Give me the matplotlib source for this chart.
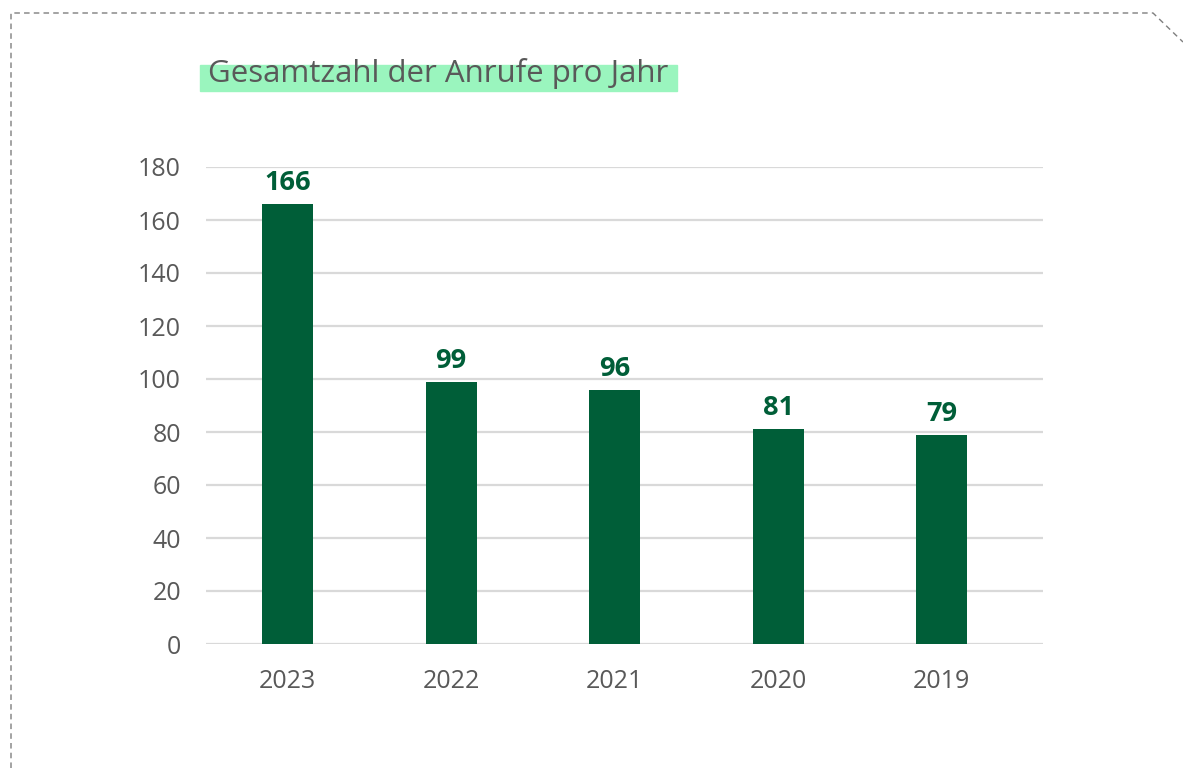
import matplotlib.pyplot as plt
from matplotlib.lines import Line2D
from matplotlib.patches import Rectangle

# data
years = ["2023", "2022", "2021", "2020", "2019"]
calls = [166, 99, 96, 81, 79]
y_ticks = [0, 20, 40, 60, 80, 100, 120, 140, 160, 180]

bar_color = "#005E38"
text_color = "#595959"
grid_color = "#D9D9D9"

plt.rcParams["font.family"] = ["Open Sans", "DejaVu Sans"]

fig = plt.figure(figsize=(11.83, 7.68), dpi=100)
ax = fig.add_axes([206 / 1183, 1 - 644 / 768, (1043 - 206) / 1183, (644 - 167) / 768])

x = list(range(len(years)))
bars = ax.bar(x, calls, width=0.31, color=bar_color, zorder=3)

# value labels
for xi, v in zip(x, calls):
    ax.text(xi, v + 3, str(v), ha="center", va="bottom", fontsize=19.5,
            fontweight="bold", color=bar_color)

ax.set_ylim(0, 180)
ax.set_xlim(-0.5, 4.62)
ax.set_yticks(y_ticks)
ax.set_xticks(x)
ax.set_xticklabels(years)
ax.tick_params(axis="both", length=0, labelsize=18, colors=text_color)
ax.tick_params(axis="y", pad=18)
ax.tick_params(axis="x", pad=18)
ax.grid(axis="y", color=grid_color, linewidth=1.6, zorder=0)
for s in ax.spines.values():
    s.set_visible(False)

# title with highlight
fig.patches.append(Rectangle((200 / 1183, 1 - 91 / 768), (677 - 200) / 1183, 26 / 768,
                             transform=fig.transFigure, color="#9AF5BE", zorder=0))
fig.text(208 / 1183, 1 - 82 / 768, "Gesamtzahl der Anrufe pro Jahr", fontsize=22.5,
         color=text_color, va="baseline", ha="left")

# dashed frame
frame_x = [11 / 1183, 11 / 1183, 1153 / 1183, 1.0]
frame_y = [0.0, 1 - 13 / 768, 1 - 13 / 768, 1 - 42 / 768]
fig.lines.append(Line2D(frame_x, frame_y, transform=fig.transFigure, color="#7F7F7F",
                        linewidth=1, linestyle=(0, (4, 3))))

plt.savefig("out.png", dpi=100)
